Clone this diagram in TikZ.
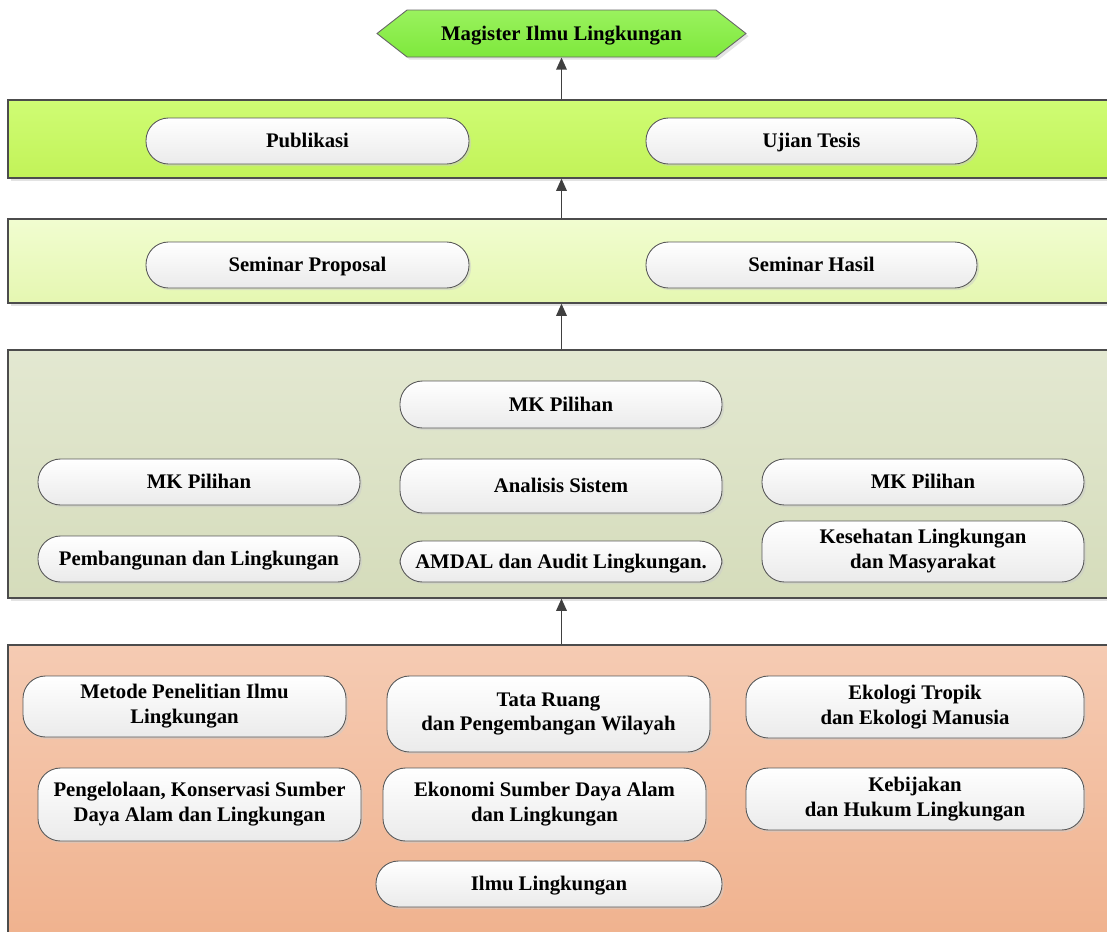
\documentclass[tikz,border=0pt]{standalone}
\usepackage{fontspec}
\setmainfont{Liberation Serif}
\usetikzlibrary{shapes.symbols,shadows,arrows.meta}
\definecolor{hexTop}{HTML}{9AF25E}
\definecolor{hexBot}{HTML}{7EE83C}
\definecolor{tesisTop}{HTML}{CFFC74}
\definecolor{tesisBot}{HTML}{C2F358}
\definecolor{semTop}{HTML}{F1FDD0}
\definecolor{semBot}{HTML}{E5F7B1}
\definecolor{mkTop}{HTML}{E3E8D1}
\definecolor{mkBot}{HTML}{D5DCBB}
\definecolor{dasarTop}{HTML}{F5CBB3}
\definecolor{dasarBot}{HTML}{F0B28E}
\newcommand{\lstrut}{\rule[-0.24em]{0pt}{1.14em}}

\begin{document}
\begin{tikzpicture}[x=0.02cm,y=-0.02cm]
	\tikzset{every node/.style={font=\bfseries\fontsize{11.8}{14}\selectfont}}
	\tikzset{band/.style={draw=black!70, line width=0.7pt, minimum width=22.14cm, inner sep=0pt,
		drop shadow={shadow xshift=1.5pt,shadow yshift=-1.5pt,fill=black!22}}}
	\tikzset{pill/.style={draw=black!65, line width=0.5pt, rounded corners=0.45cm, top color=white, bottom color=black!8,
		align=center, inner sep=1pt, execute at begin node=\lstrut, execute at end node=\lstrut,
		drop shadow={shadow xshift=1.2pt,shadow yshift=-1.2pt,fill=black!20}}}
	\tikzset{sz/.style 2 args={minimum width=#1*0.02cm, minimum height=#2*0.02cm}}
	\tikzset{arw/.style={draw=black!75, line width=1pt, -{Triangle[length=7pt,width=6pt]}}}
	\useasboundingbox (0,0) rectangle (1107,931);
	% goal
	\node[signal, signal to=west and east, signal pointer angle=76, draw=black!60, line width=0.5pt,
		top color=hexTop, bottom color=hexBot, sz={369}{47}, inner sep=0pt,
		drop shadow={shadow xshift=1.5pt,shadow yshift=-1.5pt,fill=black!22}] (hex) at (561.5,33.5) {\lstrut Magister Ilmu Lingkungan};
	% bands
	\node[band, top color=tesisTop, bottom color=tesisBot, minimum height=1.56cm] (tesis) at (561.5,139) {};
	\node[band, top color=semTop, bottom color=semBot, minimum height=1.68cm] (seminar) at (561.5,261) {};
	\node[band, top color=mkTop, bottom color=mkBot, minimum height=4.96cm] (mk) at (561.5,474) {};
	\node[band, top color=dasarTop, bottom color=dasarBot, minimum height=5.9cm] (dasar) at (561.5,792.5) {};
	% tesis
	\node[pill, sz={323}{46}] (pub) at (307.5,141) {Publikasi};
	\node[pill, sz={331}{46}] (ujian) at (811.5,141) {Ujian Tesis};
	% seminar
	\node[pill, sz={323}{46}] (semprop) at (307.5,265) {Seminar Proposal};
	\node[pill, sz={331}{46}] (semhas) at (811.5,265) {Seminar Hasil};
	% mata kuliah
	\node[pill, sz={322}{47}] (mkc) at (561,404.5) {MK Pilihan};
	\node[pill, sz={322}{46}] (mkl) at (199,482) {MK Pilihan};
	\node[pill, sz={322}{54}] (ansis) at (561,486) {Analisis Sistem};
	\node[pill, sz={322}{46}] (mkr) at (923,482) {MK Pilihan};
	\node[pill, sz={322}{46}] (pemb) at (199,559) {Pembangunan dan Lingkungan};
	\node[pill, sz={322}{41}] (amdal) at (561,561.5) {AMDAL dan Audit Lingkungan.};
	\node[pill, sz={322}{61}] (kesling) at (923,551.5) {Kesehatan Lingkungan\\dan Masyarakat};
	% dasar
	\node[pill, sz={323}{61}] (metode) at (184.5,706.5) {Metode Penelitian Ilmu\\Lingkungan};
	\node[pill, sz={323}{76}] (tata) at (548.5,714) {Tata Ruang\\dan Pengembangan Wilayah};
	\node[pill, sz={338}{62}] (ekol) at (915,707) {Ekologi Tropik\\dan Ekologi Manusia};
	\node[pill, sz={323}{73}] (kons) at (199.5,804.5) {Pengelolaan, Konservasi Sumber\\Daya Alam dan Lingkungan};
	\node[pill, sz={323}{73}] (ekon) at (544.5,804.5) {Ekonomi Sumber Daya Alam\\dan Lingkungan};
	\node[pill, sz={338}{62}] (hukum) at (915,799) {Kebijakan\\dan Hukum Lingkungan};
	\node[pill, sz={346}{46}] (ilmu) at (549,884) {Ilmu Lingkungan};
	% alur
	\draw[arw] (dasar.north) -- (mk.south);
	\draw[arw] (mk.north) -- (seminar.south);
	\draw[arw] (seminar.north) -- (tesis.south);
	\draw[arw] (tesis.north) -- (hex.south);
\end{tikzpicture}
\end{document}
